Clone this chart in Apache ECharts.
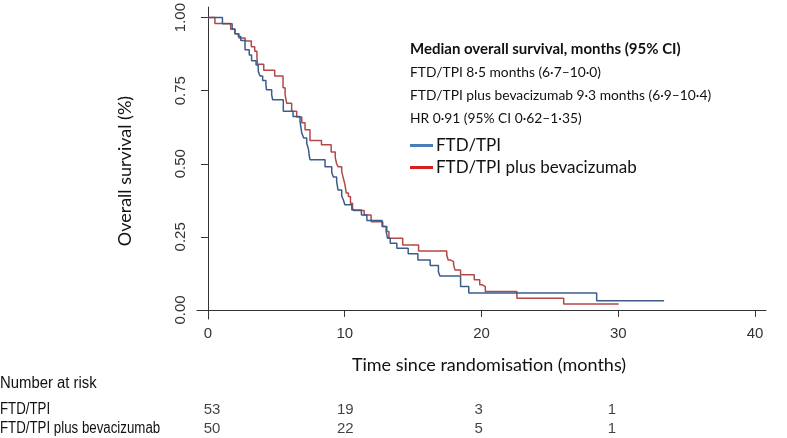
<!DOCTYPE html>
<html>
<head>
<meta charset="utf-8">
<script src="https://cdn.jsdelivr.net/npm/echarts@6/dist/echarts.min.js"></script>
<style>html,body{margin:0;padding:0;background:#fff}#c{width:787px;height:438px}</style>
</head>
<body>
<div id="c"></div>
<script>
// Kaplan-Meier step points: time (months) and survival after the step
const ftdTime = [0,1.06,1.77,1.97,2.22,2.4,2.71,3.02,3.19,3.52,3.68,3.81,4.0,4.24,4.28,4.66,4.73,5.51,6.22,6.73,6.86,7.0,7.22,7.35,7.4,7.46,8.56,9.05,9.17,9.41,9.51,9.78,9.91,10.01,10.52,11.22,11.62,12.73,13.03,13.13,13.33,13.81,14.64,15.35,16.25,16.85,16.96,18.47,19.07,28.42,33.35];
const ftdSurv = [1,0.979,0.961,0.945,0.935,0.922,0.89,0.872,0.852,0.838,0.816,0.80,0.785,0.77,0.753,0.736,0.719,0.68,0.662,0.646,0.605,0.588,0.57,0.55,0.53,0.514,0.49,0.47,0.455,0.44,0.41,0.39,0.375,0.36,0.342,0.325,0.306,0.285,0.268,0.245,0.228,0.211,0.192,0.171,0.152,0.131,0.116,0.08,0.058,0.031,0.031];
const bevTime = [0,0.51,1.66,1.97,2.27,2.72,3.17,3.42,3.58,3.62,4.08,4.88,5.49,5.64,5.76,6.12,6.49,6.86,7.1,7.46,8.3,9.01,9.31,9.41,9.51,9.78,9.87,10.01,10.11,10.27,10.42,10.57,10.67,11.42,11.93,12.78,13.08,13.23,14.24,15.4,17.46,17.56,17.71,17.96,18.06,18.47,19.47,19.87,20.07,20.28,22.59,26.01,30.03];
const bevSurv = [1,0.98,0.96,0.945,0.93,0.92,0.90,0.885,0.865,0.84,0.82,0.80,0.76,0.736,0.707,0.68,0.66,0.64,0.616,0.58,0.565,0.54,0.52,0.50,0.49,0.473,0.456,0.43,0.40,0.388,0.365,0.348,0.34,0.325,0.302,0.285,0.268,0.245,0.222,0.202,0.188,0.171,0.165,0.154,0.137,0.12,0.103,0.086,0.08,0.063,0.04,0.02,0.02];
const xTicks = [0,10,20,30,40];
const yTicks = [0,0.25,0.5,0.75,1];
const riskTimes = [0,10,20,30];
const riskFtd = [53,19,3,1];
const riskBev = [50,22,5,1];
const seriesNames = ['FTD/TPI','FTD/TPI plus bevacizumab'];
const infoTitle = 'Median overall survival, months (95% CI)';
const infoLines = ['FTD/TPI 8·5 months (6·7–10·0)','FTD/TPI plus bevacizumab 9·3 months (6·9–10·4)','HR 0·91 (95% CI 0·62–1·35)'];

const zip = (a,b) => a.map((v,i)=>[v,b[i]]);
const calibri = 'Lato, "Open Sans", sans-serif';
const arial = '"Liberation Sans", Arial, sans-serif';

const chart = echarts.init(document.getElementById('c'), null, {renderer:'canvas'});
chart.setOption({
  animation:false,
  backgroundColor:'#fff',
  grid:[
    {left:197, right:21, top:7, bottom:119},
    {left:212, right:175, top:410, height:19}
  ],
  xAxis:[
    {type:'value', gridIndex:0, min:-0.8, max:40.8,
     axisLine:{show:true, lineStyle:{color:'#333', width:1}},
     axisTick:{show:true, length:7, customValues:xTicks, lineStyle:{color:'#333'}},
     axisLabel:{customValues:xTicks, margin:7, fontFamily:arial, fontSize:15, color:'#333'},
     splitLine:{show:false}},
    {type:'value', gridIndex:1, min:0, max:30, show:false}
  ],
  yAxis:[
    {type:'value', gridIndex:0, min:-0.031, max:1.036,
     axisLine:{show:true, lineStyle:{color:'#333', width:1}},
     axisTick:{show:true, length:7, customValues:yTicks, lineStyle:{color:'#333'}},
     axisLabel:{customValues:yTicks, rotate:90, margin:9, fontFamily:arial, fontSize:15, color:'#333',
       formatter:v=>v.toFixed(2)},
     splitLine:{show:false}},
    {type:'value', gridIndex:1, min:0, max:1, show:false}
  ],
  legend:{
    orient:'vertical', left:410, top:137, padding:0, itemGap:5, itemWidth:23, itemHeight:3,
    icon:'rect', selectedMode:false,
    textStyle:{fontFamily:calibri, fontSize:17, color:'#111', padding:[0,0,0,-2]},
    data:[{name:seriesNames[0], itemStyle:{color:'#4a7ebb'}},{name:seriesNames[1], itemStyle:{color:'#d42020'}}]
  },
  series:[
    {name:seriesNames[0], type:'line', step:'end', xAxisIndex:0, yAxisIndex:0, symbol:'none',
     lineStyle:{color:'#3b5c8a', width:1.5}, itemStyle:{color:'#3b5c8a'}, data:zip(ftdTime, ftdSurv), z:3},
    {name:seriesNames[1], type:'line', step:'end', xAxisIndex:0, yAxisIndex:0, symbol:'none',
     lineStyle:{color:'#b24848', width:1.5}, itemStyle:{color:'#b24848'}, data:zip(bevTime, bevSurv), z:2},
    {name:'riskFtd', type:'scatter', xAxisIndex:1, yAxisIndex:1, symbolSize:1, itemStyle:{color:'transparent'},
     label:{show:true, position:'inside', formatter:p=>p.value[2], fontFamily:arial, fontSize:15, color:'#111'},
     data:riskTimes.map((t,i)=>[t,1,riskFtd[i]])},
    {name:'riskBev', type:'scatter', xAxisIndex:1, yAxisIndex:1, symbolSize:1, itemStyle:{color:'transparent'},
     label:{show:true, position:'inside', formatter:p=>p.value[2], fontFamily:arial, fontSize:15, color:'#111'},
     data:riskTimes.map((t,i)=>[t,0,riskBev[i]])}
  ],
  graphic:[
    {type:'text', x:410, y:49.5, style:{text:infoTitle, font:'bold 15px '+calibri, fill:'#111', textVerticalAlign:'middle'}},
    {type:'text', x:410, y:72.5, style:{text:infoLines[0], font:'13.8px '+calibri, fill:'#111', textVerticalAlign:'middle'}},
    {type:'text', x:410, y:96, style:{text:infoLines[1], font:'13.8px '+calibri, fill:'#111', textVerticalAlign:'middle'}},
    {type:'text', x:410, y:118.5, style:{text:infoLines[2], font:'13.8px '+calibri, fill:'#111', textVerticalAlign:'middle'}},
    {type:'text', x:489, y:365, style:{text:'Time since randomisation (months)', font:'18px '+calibri, fill:'#111', textAlign:'center', textVerticalAlign:'middle'}},
    {type:'text', x:125, y:171, rotation:Math.PI/2, style:{text:'Overall survival (%)', font:'18px '+calibri, fill:'#111', textAlign:'center', textVerticalAlign:'middle'}},
    {type:'text', x:0, y:384, scaleX:0.93, style:{text:'Number at risk', font:'16px '+arial, fill:'#111', textVerticalAlign:'middle'}},
    {type:'text', x:0, y:410, scaleX:0.83, style:{text:seriesNames[0], font:'16px '+arial, fill:'#111', textVerticalAlign:'middle'}},
    {type:'text', x:0, y:429, scaleX:0.83, style:{text:seriesNames[1], font:'16px '+arial, fill:'#111', textVerticalAlign:'middle'}}
  ]
});
</script>
</body>
</html>
